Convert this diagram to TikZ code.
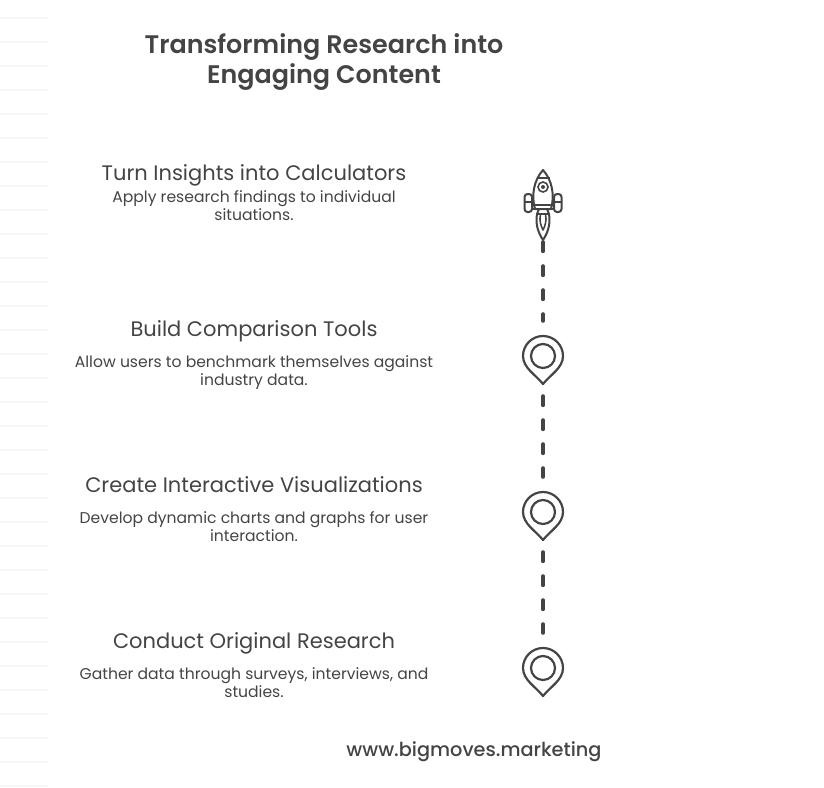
\documentclass[tikz,border=0pt]{standalone}
\usepackage{fontspec}
\setmainfont{Poppins}
\newfontfamily\semifont{Poppins SemiBold}
\newfontfamily\mediumfont{Poppins Medium}
\usetikzlibrary{positioning, arrows.meta}
\definecolor{inkgray}{HTML}{444444}
\tikzset{
    % Text
    titletext/.style = {text=inkgray, font=\fontsize{25.4}{30}\semifont, align=center},
    headtext/.style  = {text=inkgray, font=\fontsize{21}{24}\selectfont, inner sep=0pt, text height=16pt, text depth=5pt},
    desctext/.style  = {text=inkgray, font=\fontsize{15.6}{18}\selectfont, align=center, inner sep=0pt},
    sitetext/.style  = {text=inkgray, font=\fontsize{19.3}{24}\mediumfont, inner sep=0pt},
    % Markers and the road between them
    pinbox/.style    = {minimum width=41pt, minimum height=48pt, inner sep=0pt},
    rocketbox/.style = {minimum width=37pt, minimum height=70pt, inner sep=0pt},
    road/.style      = {inkgray, line width=4pt, line cap=round, dash pattern=on 9pt off 15pt},
    pinmark/.pic = {
        \draw [inkgray, line width=2.2pt, line join=round] (0,24)
            .. controls (-7,15) and (-20,8) .. (-20,-4)
            .. controls (-20,-15) and (-11,-24) .. (0,-24)
            .. controls (11,-24) and (20,-15) .. (20,-4)
            .. controls (20,8) and (7,15) .. cycle;
        \draw [inkgray, line width=2.2pt] (0,-4) circle (12);
    },
    rocketmark/.pic = {
        \draw [inkgray, line width=2pt, line join=round] (-8,4)
            .. controls (-12,-10) and (-9,-25) .. (0,-35)
            .. controls (9,-25) and (12,-10) .. (8,4) -- cycle;
        \draw [inkgray, line width=1.6pt] (-6.5,-27) -- (6.5,-27);
        \draw [inkgray, line width=1.6pt] (0,-18) circle (5);
        \fill [inkgray] (0,-18) circle (2);
        \draw [inkgray, line width=2pt, rounded corners=3pt] (-18.5,-11) rectangle (-11,7);
        \draw [inkgray, line width=2pt, rounded corners=3pt] (11,-11) rectangle (18.5,7);
        \draw [inkgray, line width=1.6pt] (-18.5,-3) -- (-11,-3) (11,-3) -- (18.5,-3);
        \draw [inkgray, line width=1.8pt] (-11,0) -- (11,0) (-11,4) -- (11,4);
        \draw [inkgray, line width=2pt, line join=round] (-4,4) -- (-6,9)
            .. controls (-8,20) and (-4,29) .. (0,35)
            .. controls (4,29) and (8,20) .. (6,9) -- (4,4);
        \draw [inkgray, line width=1.6pt, line join=round] (-6,9) -- (6,9) (-2.5,9)
            .. controls (-4,16) and (-2,21) .. (0,25)
            .. controls (2,21) and (4,16) .. (2.5,9);
    }
}
\begin{document}
\begin{tikzpicture}[x=1pt, y=-1pt]
    \useasboundingbox (0,0) rectangle (824,787);

    % faint ruling on the left
    \foreach \rowy in {18,42,...,786} {
        \draw [black!3, line width=1.5pt] (0,\rowy) -- (48,\rowy);
    }

    \node (title) [titletext] at (324,62) {Transforming Research into\\Engaging Content};

    \node (headcalc) [headtext] at (254,175) {Turn Insights into Calculators};
    \node (desccalc) [desctext, below=5pt of headcalc] {Apply research findings to individual\\situations.};

    \node (headcomp) [headtext] at (254,331) {Build Comparison Tools};
    \node (desccomp) [desctext, below=14pt of headcomp] {Allow users to benchmark themselves against\\industry data.};

    \node (headvis) [headtext] at (254,487) {Create Interactive Visualizations};
    \node (descvis) [desctext, below=14pt of headvis] {Develop dynamic charts and graphs for user\\interaction.};

    \node (headres) [headtext] at (254,643) {Conduct Original Research};
    \node (descres) [desctext, below=14pt of headres] {Gather data through surveys, interviews, and\\studies.};

    \node (site) [sitetext] at (474,752) {www.bigmoves.marketing};

    % markers
    \node (rocket) [rocketbox] at (543,205) {};
    \node (pincomp) [pinbox] at (543,360) {};
    \node (pinvis) [pinbox] at (543,516) {};
    \node (pinres) [pinbox] at (543,672) {};
    \pic at (rocket.center) {rocketmark};
    \pic at (pincomp.center) {pinmark};
    \pic at (pinvis.center) {pinmark};
    \pic at (pinres.center) {pinmark};

    \draw [road, shorten <=2pt, shorten >=15pt] (rocket) -- (pincomp);
    \draw [road, shorten <=12pt, shorten >=15pt] (pincomp) -- (pinvis);
    \draw [road, shorten <=12pt, shorten >=15pt] (pinvis) -- (pinres);
\end{tikzpicture}
\end{document}
